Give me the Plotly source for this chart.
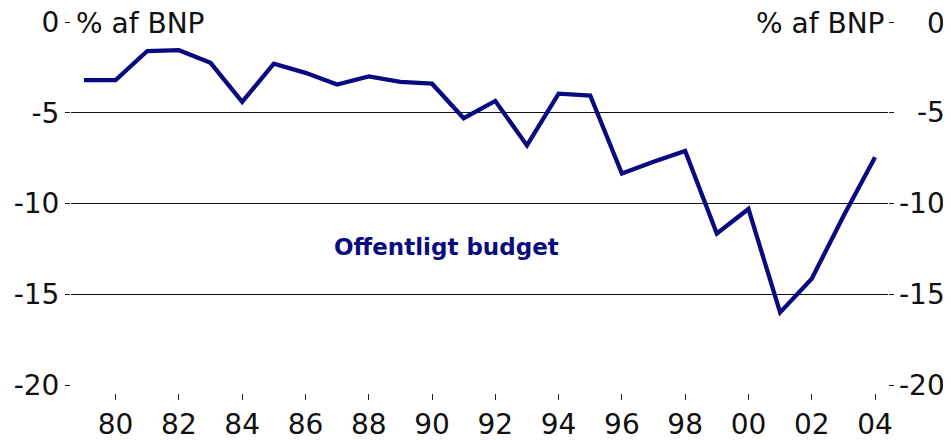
import plotly.graph_objects as go

years = list(range(1979, 2005))
budget = [-3.2, -3.2, -1.6, -1.55, -2.25, -4.4, -2.3, -2.8, -3.45, -3.0,
          -3.3, -3.4, -5.3, -4.35, -6.8, -3.95, -4.05, -8.35, -7.7, -7.1,
          -11.65, -10.3, -16.0, -14.15, -10.7, -7.45]
x_tickvals = list(range(1980, 2005, 2))
x_ticktext = ["80", "82", "84", "86", "88", "90", "92", "94", "96", "98", "00", "02", "04"]
y_tickvals = [0, -5, -10, -15, -20]
y_ticktext = ["0", "-5", "-10", "-15", "-20"]
grid_vals = [-5, -10, -15]
unit_label = "% af BNP"
series_label = "Offentligt budget"

FONT = "DejaVu Sans"
TXT = "#111111"
NAVY = "#0a0a80"
YR = [-20.44, 0.0]
XR = [1978.59, 2004.41]

fig = go.Figure()
fig.add_trace(go.Scatter(x=[years[0]], y=[budget[0]], yaxis="y2", mode="markers",
                         marker=dict(opacity=0), showlegend=False, hoverinfo="skip"))
fig.add_trace(go.Scatter(x=[years[0]], y=[budget[0]], yaxis="y3", mode="markers",
                         marker=dict(opacity=0), showlegend=False, hoverinfo="skip"))
fig.add_trace(go.Scatter(x=years, y=budget, mode="lines",
                         line=dict(color=NAVY, width=4.3), showlegend=False,
                         hoverinfo="skip"))

fig.update_layout(
    width=943, height=432,
    margin=dict(l=63, r=63, t=14, b=47, autoexpand=False),
    paper_bgcolor="white", plot_bgcolor="white",
    font=dict(family=FONT, size=28, color=TXT),
    xaxis=dict(range=XR, tickvals=x_tickvals, ticktext=x_ticktext,
               ticks="outside", ticklen=6, tickwidth=1, tickcolor="#222",
               showgrid=False, zeroline=False, showline=False, automargin=False,
               ticklabeloverflow="allow",
               tickfont=dict(family=FONT, size=28, color=TXT)),
    yaxis=dict(range=YR, tickvals=y_tickvals, ticktext=y_ticktext,
               ticks="outside", ticklen=5, tickwidth=1, tickcolor="#222",
               showgrid=False, zeroline=False, showline=False, automargin=False,
               ticklabeloverflow="allow",
               tickfont=dict(family=FONT, size=28, color=TXT)),
    yaxis2=dict(range=YR, overlaying="y", side="right", tickvals=y_tickvals,
                ticks="outside", ticklen=5, tickwidth=1, tickcolor="#222",
                showticklabels=False, showgrid=False, zeroline=False, showline=False,
                automargin=False),
    yaxis3=dict(range=YR, overlaying="y", side="left", tickvals=grid_vals,
                showgrid=True, gridcolor="#111", gridwidth=1.3,
                showticklabels=False, ticks="", zeroline=False, showline=False,
                automargin=False),
)

# right-hand tick labels (right aligned)
for v, t in zip(y_tickvals, y_ticktext):
    fig.add_annotation(x=1, xref="paper", y=v, yref="y", text=t, showarrow=False,
                       xanchor="right", yanchor="middle", xshift=59,
                       yshift=-1 if v == 0 else 0,
                       font=dict(family=FONT, size=28, color=TXT))

# unit labels
fig.add_annotation(x=0, xref="paper", y=0, yref="y", text=unit_label, showarrow=False,
                   xanchor="left", yanchor="middle", xshift=3, yshift=-1,
                   font=dict(family=FONT, size=28, color=TXT))
fig.add_annotation(x=1, xref="paper", y=0, yref="y", text=unit_label, showarrow=False,
                   xanchor="right", yanchor="middle", xshift=-2, yshift=-1,
                   font=dict(family=FONT, size=28, color=TXT))

# series label
fig.add_annotation(x=1990.47, y=-12.4, text="<b>" + series_label + "</b>", showarrow=False,
                   xanchor="center", yanchor="middle",
                   font=dict(family=FONT, size=23, color=NAVY))

fig.write_html("out.html")
